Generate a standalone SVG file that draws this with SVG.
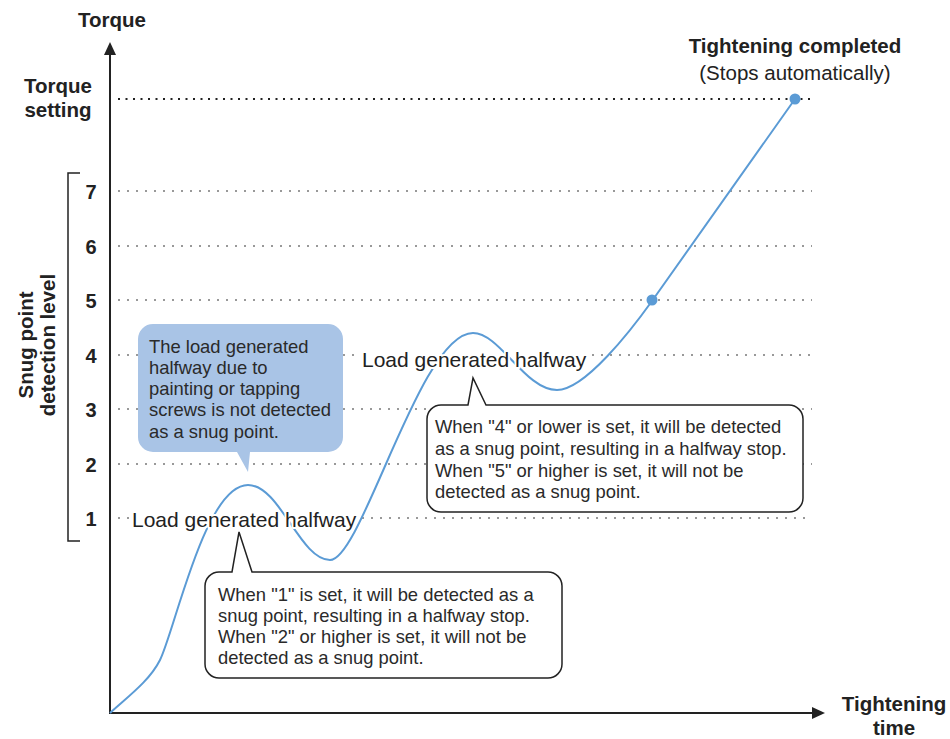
<svg xmlns="http://www.w3.org/2000/svg" width="950" height="739" viewBox="0 0 950 739">
<style>
text{font-family:"Liberation Sans",Arial,sans-serif;fill:#222}
.b{font-weight:bold;font-size:20.5px}
.lv{font-weight:bold;font-size:20px;text-anchor:middle}
.c{font-size:18.4px;fill:#2a2a2a}
.ld{font-size:21px;stroke:#fff;stroke-width:4;paint-order:stroke;stroke-linejoin:round}
.g{stroke:#999;stroke-width:2;stroke-dasharray:2 7;fill:none}
.k{stroke:#222;stroke-width:2;stroke-dasharray:2 5.5;fill:none}
.ax{stroke:#222;stroke-width:2;fill:none}
.co{fill:#fff;stroke:#222;stroke-width:1.5}
</style>
<rect width="950" height="739" fill="#fff"/>
<g id="gridlines">
<line class="k" x1="118" y1="99" x2="812" y2="99"/>
<line class="g" x1="118" y1="191" x2="812" y2="191"/>
<line class="g" x1="118" y1="246" x2="812" y2="246"/>
<line class="g" x1="118" y1="300" x2="812" y2="300"/>
<line class="g" x1="118" y1="355" x2="360" y2="355"/>
<line class="g" x1="592" y1="355" x2="812" y2="355"/>
<line class="g" x1="118" y1="409" x2="812" y2="409"/>
<line class="g" x1="118" y1="464" x2="812" y2="464"/>
<line class="g" x1="118" y1="518" x2="130" y2="518"/>
<line class="g" x1="362" y1="518" x2="812" y2="518"/>
</g>
<g id="axes">
<line class="ax" x1="110" y1="714" x2="110" y2="50"/>
<polygon points="110,42 104,55 116,55" fill="#222"/>
<line class="ax" x1="109" y1="713" x2="816" y2="713"/>
<polygon points="825,713 812,707 812,719" fill="#222"/>
<path d="M80,173 H68 V541 H80" fill="none" stroke="#222" stroke-width="1.5"/>
</g>
<g id="labels">
<text class="b" x="112" y="27" text-anchor="middle">Torque</text>
<text class="b" x="58" y="93" text-anchor="middle">Torque</text>
<text class="b" x="58" y="117" text-anchor="middle">setting</text>
<text class="b" x="894" y="711" text-anchor="middle">Tightening</text>
<text class="b" x="894" y="735" text-anchor="middle">time</text>
<text class="b" transform="translate(33,345) rotate(-90)" text-anchor="middle">Snug point</text>
<text class="b" transform="translate(55,345) rotate(-90)" text-anchor="middle">detection level</text>
<text class="lv" x="91" y="199">7</text>
<text class="lv" x="91" y="254">6</text>
<text class="lv" x="91" y="308">5</text>
<text class="lv" x="91" y="363">4</text>
<text class="lv" x="91" y="417">3</text>
<text class="lv" x="91" y="472">2</text>
<text class="lv" x="91" y="526">1</text>
<text class="b" x="795" y="53" text-anchor="middle">Tightening completed</text>
<text x="795" y="80" text-anchor="middle" style="font-size:20.5px">(Stops automatically)</text>
</g>
<g id="curve">
<path d="M110,713 C130,695 150,680 160,660 C175,630 205,485 248,485 C280,485 300,560 330,560 C362,560 420,333 473,333 C500,333 525,390 557,390 C585,390 632,329 652,301 L795,99" fill="none" stroke="#5b9bd5" stroke-width="2"/>
<circle cx="652" cy="300" r="5.5" fill="#5b9bd5"/>
<circle cx="795" cy="99" r="5.5" fill="#5b9bd5"/>
</g>
<g id="load1">
<text class="ld" x="132" y="527">Load generated halfway</text>
</g>
<g id="load2">
<text class="ld" x="362" y="367">Load generated halfway</text>
</g>
<g id="callout-blue">
<path d="M153,324 H328 A15,15 0 0 1 343,339 V437 A15,15 0 0 1 328,452 H250 L248,472 L237,452 H153 A15,15 0 0 1 138,437 V339 A15,15 0 0 1 153,324 Z" fill="#a9c4e6"/>
<text class="c" x="149" y="353">The load generated</text>
<text class="c" x="149" y="374">halfway due to</text>
<text class="c" x="149" y="395">painting or tapping</text>
<text class="c" x="149" y="416">screws is not detected</text>
<text class="c" x="149" y="438">as a snug point.</text>
</g>
<g id="callout-4">
<path class="co" d="M441,405 H468 L473,378 L486,405 H789 A14,14 0 0 1 803,419 V498 A14,14 0 0 1 789,512 H441 A14,14 0 0 1 427,498 V419 A14,14 0 0 1 441,405 Z"/>
<text class="c" x="435" y="433">When "4" or lower is set, it will be detected</text>
<text class="c" x="435" y="455">as a snug point, resulting in a halfway stop.</text>
<text class="c" x="435" y="477">When "5" or higher is set, it will not be</text>
<text class="c" x="435" y="498">detected as a snug point.</text>
</g>
<g id="callout-1">
<path class="co" d="M219,572 H232 L239,532 L252,572 H548 A14,14 0 0 1 562,586 V664 A14,14 0 0 1 548,678 H219 A14,14 0 0 1 205,664 V586 A14,14 0 0 1 219,572 Z"/>
<text class="c" x="218" y="601">When "1" is set, it will be detected as a</text>
<text class="c" x="218" y="622">snug point, resulting in a halfway stop.</text>
<text class="c" x="218" y="643">When "2" or higher is set, it will not be</text>
<text class="c" x="218" y="664">detected as a snug point.</text>
</g>
</svg>
